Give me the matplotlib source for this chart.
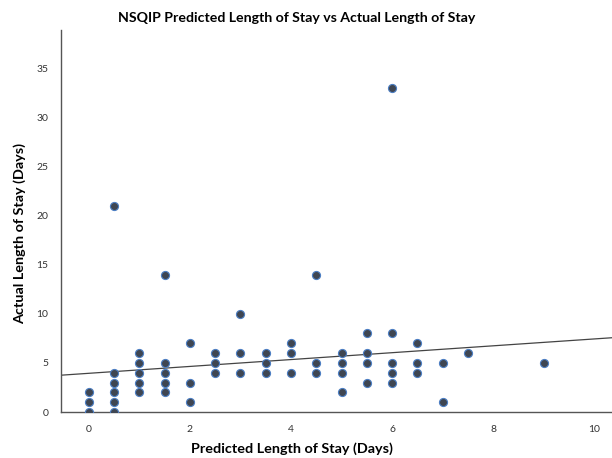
import matplotlib.pyplot as plt

# predicted LOS (x) and actual LOS (y), one entry per visible point
predicted = [0, 0, 0,
             0.5, 0.5, 0.5, 0.5, 0.5, 0.5,
             1, 1, 1, 1, 1,
             1.5, 1.5, 1.5, 1.5, 1.5,
             2, 2, 2,
             2.5, 2.5, 2.5,
             3, 3, 3,
             3.5, 3.5, 3.5,
             4, 4, 4,
             4.5, 4.5, 4.5,
             5, 5, 5, 5,
             5.5, 5.5, 5.5, 5.5,
             6, 6, 6, 6, 6,
             6.5, 6.5, 6.5,
             7, 7,
             7.5,
             9]
actual = [0, 1, 2,
          0, 1, 2, 3, 4, 21,
          2, 3, 4, 5, 6,
          2, 3, 4, 5, 14,
          1, 3, 7,
          4, 5, 6,
          4, 6, 10,
          4, 5, 6,
          4, 6, 7,
          4, 5, 14,
          2, 4, 5, 6,
          3, 5, 6, 8,
          3, 4, 5, 8, 33,
          4, 5, 7,
          1, 5,
          6,
          5]

# fit line as shown in the chart
fit_intercept = 3.94
fit_slope = 0.35

x_ticks = [0, 2, 4, 6, 8, 10]
y_ticks = [0, 5, 10, 15, 20, 25, 30, 35]

plt.rcParams['font.family'] = ['Lato', 'DejaVu Sans']

fig = plt.figure(figsize=(6.12, 4.58), dpi=100)
ax = fig.add_axes([61 / 612, 1 - 412 / 458, 1 - 61 / 612, (412 - 30) / 458])

ax.scatter(predicted, actual, s=34, facecolor='#3f4652', edgecolor='#4d7fc4',
           linewidth=0.8, zorder=3)

x0, x1 = -0.55, 10.35
ax.plot([x0, x1], [fit_intercept + fit_slope * x0, fit_intercept + fit_slope * x1],
        color='#444444', linewidth=0.9, zorder=2)

ax.set_xlim(x0, x1)
ax.set_ylim(0, 38.9)
ax.set_xticks(x_ticks)
ax.set_yticks(y_ticks)
ax.tick_params(length=0, labelsize=7.5, colors='#333333', pad=9)

for side in ['top', 'right']:
    ax.spines[side].set_visible(False)
for side in ['left', 'bottom']:
    ax.spines[side].set_color('#555555')
    ax.spines[side].set_linewidth(1.0)

fig.text(297 / 612, 1 - 18 / 458, 'NSQIP Predicted Length of Stay vs Actual Length of Stay',
         ha='center', va='center', fontsize=10.2, fontweight='bold')
fig.text(292 / 612, 1 - 449 / 458, 'Predicted Length of Stay (Days)',
         ha='center', va='center', fontsize=10.4, fontweight='bold')
fig.text(20 / 612, 1 - 234 / 458, 'Actual Length of Stay (Days)',
         ha='center', va='center', rotation=90, fontsize=10.4, fontweight='bold')

plt.savefig('out.png', dpi=100)
plt.close()
